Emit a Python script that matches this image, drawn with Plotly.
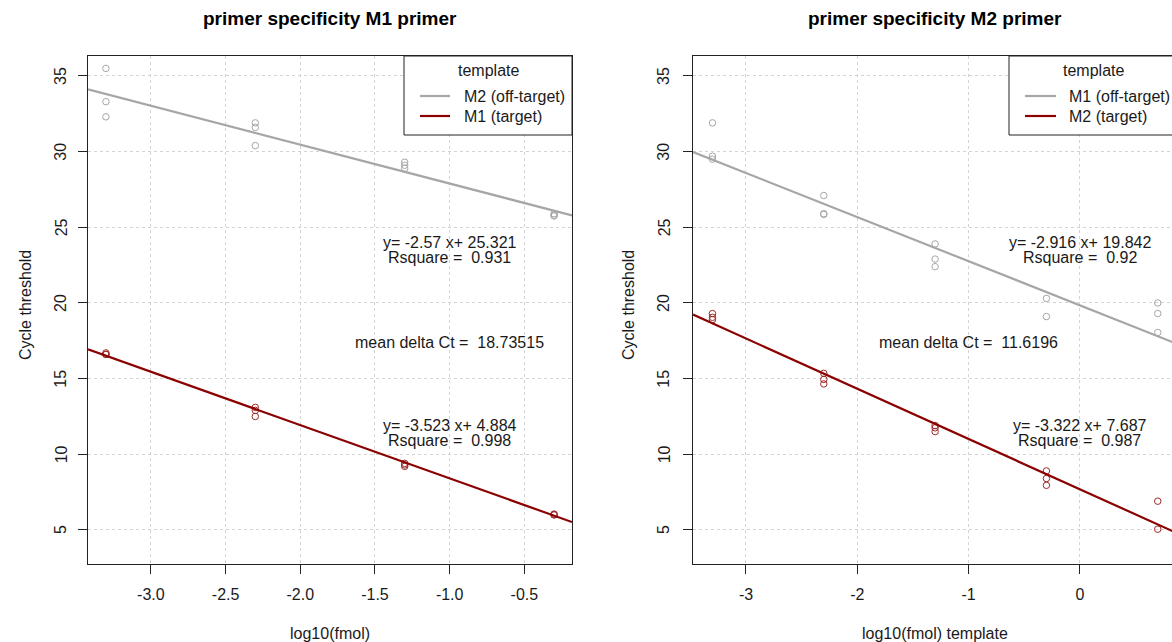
import plotly.graph_objects as go
import numpy as np

# ---------------- data ----------------
lvl = [-3.301, -2.301, -1.301, -0.301, 0.699]

left_off_x = [lvl[0]]*3 + [lvl[1]]*3 + [lvl[2]]*3 + [lvl[3]]*3
left_off_y = [35.5, 33.3, 32.3, 31.9, 31.6, 30.4, 29.3, 29.1, 28.9, 25.9, 25.8, 25.75]
left_tar_x = [lvl[0]]*3 + [lvl[1]]*3 + [lvl[2]]*3 + [lvl[3]]*3
left_tar_y = [16.7, 16.6, 16.6, 13.1, 12.9, 12.5, 9.4, 9.3, 9.2, 6.05, 6.0, 6.0]

right_off_x = [lvl[0]]*3 + [lvl[1]]*3 + [lvl[2]]*3 + [lvl[3]]*2 + [lvl[4]]*3
right_off_y = [31.9, 29.7, 29.5, 27.1, 25.9, 25.85, 23.9, 22.9, 22.4, 20.3, 19.1, 20.0, 19.3, 18.05]
right_tar_x = [lvl[0]]*3 + [lvl[1]]*3 + [lvl[2]]*3 + [lvl[3]]*3 + [lvl[4]]*2
right_tar_y = [19.3, 19.05, 18.9, 15.35, 14.95, 14.65, 11.9, 11.75, 11.5, 8.9, 8.4, 7.95, 6.9, 5.05]

# fitted lines (slope, intercept) as printed
left_off_fit = (-2.57, 25.321)
left_tar_fit = (-3.523, 4.884)
right_off_fit = (-2.916, 19.842)
right_tar_fit = (-3.322, 7.687)

left_texts = ["y= -2.57 x+ 25.321", "Rsquare =  0.931", "mean delta Ct =  18.73515",
              "y= -3.523 x+ 4.884", "Rsquare =  0.998"]
right_texts = ["y= -2.916 x+ 19.842", "Rsquare =  0.92", "mean delta Ct =  11.6196",
               "y= -3.322 x+ 7.687", "Rsquare =  0.987"]

titles = ["primer specificity M1 primer", "primer specificity M2 primer"]
xlabels = ["log10(fmol)", "log10(fmol) template"]
ylabel = "Cycle threshold"
legend_left = ["M2 (off-target)", "M1 (target)"]
legend_right = ["M1 (off-target)", "M2 (target)"]

left_xticks = [-3.0, -2.5, -2.0, -1.5, -1.0, -0.5]
left_xticktext = ["-3.0", "-2.5", "-2.0", "-1.5", "-1.0", "-0.5"]
right_xticks = [-3, -2, -1, 0]
right_xticktext = ["-3", "-2", "-1", "0"]
yticks = [5, 10, 15, 20, 25, 30, 35]

# ---------------- style ----------------
W, H = 1172, 642
GRAY = "#a6a6a6"
RED = "#8b0000"
FONT = "Liberation Sans, Arial, sans-serif"
TXT = "#1a1a1a"
FS = 16

left_xr = [-3.421, -0.181]
right_xr = [-3.476, 0.872]
yr = [2.75, 36.32]

# pixel geometry
L0, L1 = 88, 572
R0, R1 = 693, 1177
TOP, BOT = 56, 564

def px(x):
    return x / W

def py(y):
    return (H - y) / H

fig = go.Figure()

def add_panel(xs_off, ys_off, xs_tar, ys_tar, fit_off, fit_tar, xr, xa, ya):
    fig.add_trace(go.Scatter(x=xs_off, y=ys_off, mode="markers", xaxis=xa, yaxis=ya,
                             marker=dict(symbol="circle-open", size=6.5, color=GRAY,
                                         line=dict(width=1, color=GRAY)),
                             showlegend=False, hoverinfo="skip"))
    fig.add_trace(go.Scatter(x=xs_tar, y=ys_tar, mode="markers", xaxis=xa, yaxis=ya,
                             marker=dict(symbol="circle-open", size=6.5, color="#9a2a2a",
                                         line=dict(width=1, color="#9a2a2a")),
                             showlegend=False, hoverinfo="skip"))
    xx = np.array(xr)
    for (m, b), col in [(fit_off, GRAY), (fit_tar, RED)]:
        fig.add_trace(go.Scatter(x=xx, y=m * xx + b, mode="lines", xaxis=xa, yaxis=ya,
                                 line=dict(color=col, width=2.2),
                                 showlegend=False, hoverinfo="skip"))

add_panel(left_off_x, left_off_y, left_tar_x, left_tar_y, left_off_fit, left_tar_fit,
          left_xr, "x", "y")
add_panel(right_off_x, right_off_y, right_tar_x, right_tar_y, right_off_fit, right_tar_fit,
          right_xr, "x2", "y2")

axis_common = dict(showgrid=True, gridcolor="#d3d3d3", griddash="dot", gridwidth=1,
                   zeroline=False, showline=True, linecolor="#222", linewidth=1,
                   ticks="outside", ticklen=9, tickcolor="#222",
                   tickfont=dict(family=FONT, size=FS, color=TXT), automargin=False)

fig.update_layout(
    width=W, height=H, margin=dict(l=0, r=0, t=0, b=0),
    paper_bgcolor="white", plot_bgcolor="white", showlegend=False,
    xaxis=dict(domain=[px(L0), px(L1)], range=left_xr, tickvals=left_xticks,
               ticktext=left_xticktext, mirror=True, ticklabelstandoff=7,
               anchor="y", **axis_common),
    yaxis=dict(domain=[py(BOT), py(TOP)], range=yr, tickvals=yticks, showticklabels=False,
               mirror=True, anchor="x", **axis_common),
    xaxis2=dict(domain=[px(R0), 1.0],
                range=[right_xr[0], right_xr[0] + (right_xr[1] - right_xr[0]) * (W - R0) / (R1 - R0)],
                tickvals=right_xticks, ticktext=right_xticktext, mirror=True, ticklabelstandoff=7,
                anchor="y2", **axis_common),
    yaxis2=dict(domain=[py(BOT), py(TOP)], range=yr, tickvals=yticks, showticklabels=False,
                mirror=False, anchor="x2", **axis_common),
)

ann = []
# y tick labels (rotated, R style)
for ya, cx in [("y", 61), ("y2", 664)]:
    for v in yticks:
        ann.append(dict(text=str(v), x=px(cx), y=v, xref="paper", yref=ya, showarrow=False,
                        textangle=-90, xanchor="center", yanchor="middle",
                        font=dict(family=FONT, size=FS, color=TXT)))
# titles
for t, cx in zip(titles, [(L0 + L1) / 2, (R0 + R1) / 2]):
    ann.append(dict(text="<b>" + t + "</b>", x=px(cx), y=py(19), xref="paper", yref="paper",
                    showarrow=False, xanchor="center", yanchor="middle",
                    font=dict(family=FONT, size=19, color="#000")))
for t, cx in zip(xlabels, [(L0 + L1) / 2, (R0 + R1) / 2]):
    ann.append(dict(text=t, x=px(cx), y=py(633), xref="paper", yref="paper",
                    showarrow=False, xanchor="center", yanchor="middle",
                    font=dict(family=FONT, size=FS, color=TXT)))
for cx in [25, 628]:
    ann.append(dict(text=ylabel, x=px(cx), y=py(305), xref="paper", yref="paper",
                    showarrow=False, textangle=-90, xanchor="center", yanchor="middle",
                    font=dict(family=FONT, size=FS, color=TXT)))

# in-plot texts
def texts(tl, xa, ya, xc, xm):
    pos = [(xc, 24.0), (xc, 23.0), (xm, 17.4), (xc, 11.9), (xc, 10.93)]
    for t, (x, y) in zip(tl, pos):
        ann.append(dict(text=t, x=x, y=y, xref=xa, yref=ya, showarrow=False,
                        xanchor="center", yanchor="middle",
                        font=dict(family=FONT, size=FS, color=TXT)))

texts(left_texts, "x", "y", -1.0, -1.0)
texts(right_texts, "x2", "y2", 0.0, -1.0)

shapes = []
# legends
def legend(x0, x1, lx0, lx1, tx, labels, title_x):
    shapes.append(dict(type="rect", xref="paper", yref="paper", x0=px(x0), x1=px(x1),
                       y0=py(135), y1=py(TOP), line=dict(color="#222", width=1),
                       fillcolor="white", layer="above"))
    ann.append(dict(text="template", x=px(title_x), y=py(71), xref="paper", yref="paper",
                    showarrow=False, xanchor="center", yanchor="middle",
                    font=dict(family=FONT, size=FS, color=TXT)))
    for lab, col, yy in zip(labels, [GRAY, RED], [96, 116]):
        shapes.append(dict(type="line", xref="paper", yref="paper", x0=px(lx0), x1=px(lx1),
                           y0=py(yy), y1=py(yy), line=dict(color=col, width=2.2), layer="above"))
        ann.append(dict(text=lab, x=px(tx), y=py(yy), xref="paper", yref="paper",
                        showarrow=False, xanchor="left", yanchor="middle",
                        font=dict(family=FONT, size=FS, color=TXT)))

legend(404, L1, 420, 450, 462, legend_left, 488)
legend(1009, 1190, 1025, 1056, 1067, legend_right, 1093)

fig.update_layout(annotations=ann, shapes=shapes)
fig.write_html("out.html")
